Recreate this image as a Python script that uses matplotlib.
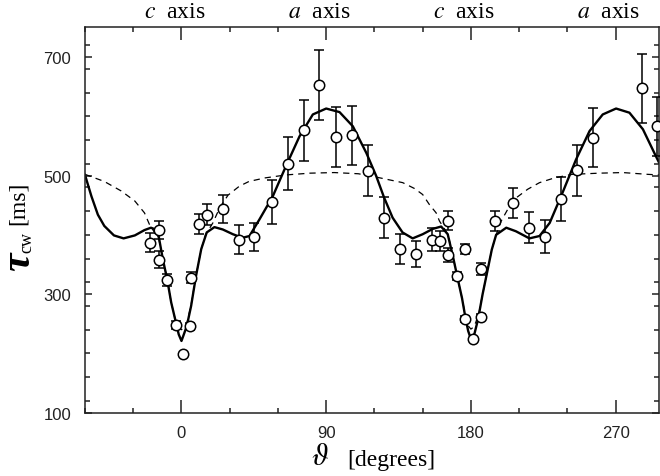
import matplotlib.pyplot as plt
import matplotlib.transforms as mtransforms
from matplotlib.ticker import MultipleLocator

plt.rcParams['mathtext.fontset'] = 'stix'

# measured relaxation times (angle in degrees, tau in ms, error in ms)
theta_pts = [-19.5, -14.1, -14.1, -8.9, -3.7, 0.8, 5.6, 5.8, 10.8, 15.7,
             26.1, 36, 45.4, 56, 66.1, 76, 85.8, 96, 106, 116,
             125.8, 135.9, 145.9, 155.7, 161, 166, 166, 171.2, 176.2, 176.4,
             181.6, 186.4, 186.4, 195.3, 206, 216, 226.2, 236.2, 246.1, 256.2,
             286.3, 295.9]
tau_pts = [387, 408, 358, 324, 248, 199, 246, 328, 418, 434,
           444, 392, 396, 456, 520, 576, 653, 565, 568, 508,
           429, 376, 367, 392, 390, 424, 366, 330, 376, 258,
           224, 261, 342, 423, 454, 412, 397, 461, 509, 564,
           647, 583]
tau_err = [16, 15, 14, 10, 6, 0, 6, 9, 17, 18,
           24, 24, 24, 37, 45, 52, 59, 50, 50, 43,
           34, 26, 22, 20, 17, 16, 11, 7, 8, 5,
           0, 5, 10, 17, 25, 26, 28, 37, 43, 50,
           58, 50]

# solid curve (fit)
fit_theta = [-60, -56, -52, -48, -42, -36, -29, -23, -19, -16,
             -14, -11.6, -8.9, -6.4, -3.7, -1.7, 0, 1.2, 3.3, 6,
             9, 12.3, 15.7, 20.5, 25.7, 32, 38, 42.3, 48.5, 56.8,
             65, 73.4, 81.7, 90, 98.3, 106.6, 115, 121, 126, 131.3,
             137.5, 143.8, 150, 156.3, 161.5, 165.6, 168.8, 171.9, 174.5, 176.5,
             178.3, 180.3, 182.3, 184.5, 187.3, 190.5, 193, 195.7, 202, 208,
             216.4, 222.7, 229, 237, 245.4, 253.8, 262, 270.3, 278.6, 287,
             295, 297]
fit_tau = [501, 465, 434, 415, 399, 394, 399, 408, 412, 409,
           395, 359, 325, 286, 255, 232, 221, 230, 246, 280,
           330, 376, 404, 413, 409, 401, 395, 398, 426, 465,
           516, 566, 603, 613, 607, 583, 538, 500, 463, 429,
           404, 394, 401, 410, 414, 401, 364, 325, 293, 262,
           238, 222, 234, 258, 300, 342, 375, 400, 412, 406,
           394, 398, 420, 471, 527, 575, 603, 613, 606, 578,
           533, 522]

# dashed curve (model)
model_theta = [-60, -48, -37.5, -29, -23, -20, -17, -14, -11.6, -8.9,
               -6.4, -3.7, -1.5, 0, 1.5, 3.3, 6, 9, 12.3, 15,
               19.5, 24, 29, 36, 42, 52, 65, 80, 95, 110,
               120, 137.6, 145, 150, 154.2, 158.4, 160.5, 163.6, 166, 168.8,
               171.9, 174.5, 176.5, 178.5, 180, 181.5, 183, 185, 187.3, 190.5,
               193, 195.7, 198.8, 206, 215.4, 222.7, 232, 243, 260, 274.5,
               290, 297]
model_tau = [502, 490, 474, 457, 437, 418, 405, 392, 359, 325,
             286, 255, 243, 240, 243, 250, 282, 330, 376, 400,
             420, 447, 467, 482, 490, 496, 501, 504, 505, 503,
             498, 488, 478, 468, 451, 437, 423, 410, 398, 364,
             325, 293, 265, 246, 241, 244, 252, 268, 300, 342,
             375, 400, 423, 458, 477, 488, 496, 502, 504, 505,
             502, 501]

axis_pos = [0, 90, 180, 270]
axis_names = ['c', 'a', 'c', 'a']

fig = plt.figure(figsize=(6.6, 4.77), dpi=100)
ax = fig.add_axes([85 / 660, 63.3 / 477, 574 / 660, 385.4 / 477])

ax.plot(model_theta, model_tau, color='k', lw=0.9, dashes=(5, 4), zorder=2)
ax.plot(fit_theta, fit_tau, color='k', lw=1.7, zorder=2.5)
ax.errorbar(theta_pts, tau_pts, yerr=tau_err, fmt='none', ecolor='k',
            elinewidth=1.1, capsize=3.5, capthick=1.1, zorder=3)
ax.plot(theta_pts, tau_pts, 'o', ms=7.5, mfc='white', mec='k', mew=1.1, zorder=4)

ax.set_xlim(-60, 297)
ax.set_ylim(100, 750)
ax.set_xticks(axis_pos)
ax.set_yticks([100, 300, 500, 700])
ax.xaxis.set_minor_locator(MultipleLocator(30))
ax.yaxis.set_minor_locator(MultipleLocator(40))
ax.tick_params(which='both', direction='in', top=True, right=True, width=1.1,
               labelsize=12, colors='#222222')
ax.tick_params(axis='x', which='major', length=9.5, pad=9)
ax.tick_params(axis='x', which='minor', length=3.5)
ax.tick_params(axis='y', which='major', length=5, pad=10)
ax.tick_params(axis='y', which='minor', length=3.5)
for lab in ax.get_xticklabels() + ax.get_yticklabels():
    lab.set_fontfamily('Liberation Sans')
for sp in ax.spines.values():
    sp.set_linewidth(1.1)
    sp.set_color('#222222')

# axis names along the top
trans = mtransforms.blended_transform_factory(ax.transData, ax.transAxes)
for pos, name in zip(axis_pos, axis_names):
    ax.text(pos - 4.4, 1.042, rf'${name}$  axis', transform=trans, ha='center',
            va='center', fontsize=17, family='Liberation Serif', clip_on=False)

# y label
fig.text(19 / 660, 1 - 262 / 477, 'τ', rotation=90, ha='center', va='center',
         fontsize=30, family=['Liberation Serif', 'DejaVu Serif'],
         style='italic', weight='bold')
fig.text(27 / 660, 1 - 243 / 477, 'cw', rotation=90, ha='center', va='center',
         fontsize=13, family='Liberation Serif')
fig.text(18 / 660, 1 - 203 / 477, '[ms]', rotation=90, ha='center', va='center',
         fontsize=17, family='Liberation Serif')

# x label
fig.text(320 / 660, 1 - 457 / 477, r'$\vartheta$', ha='center', va='center',
         fontsize=22)
fig.text(391 / 660, 1 - 461 / 477, '[degrees]', ha='center', va='center',
         fontsize=17, family='Liberation Serif')

fig.savefig('out.png', dpi=100)
